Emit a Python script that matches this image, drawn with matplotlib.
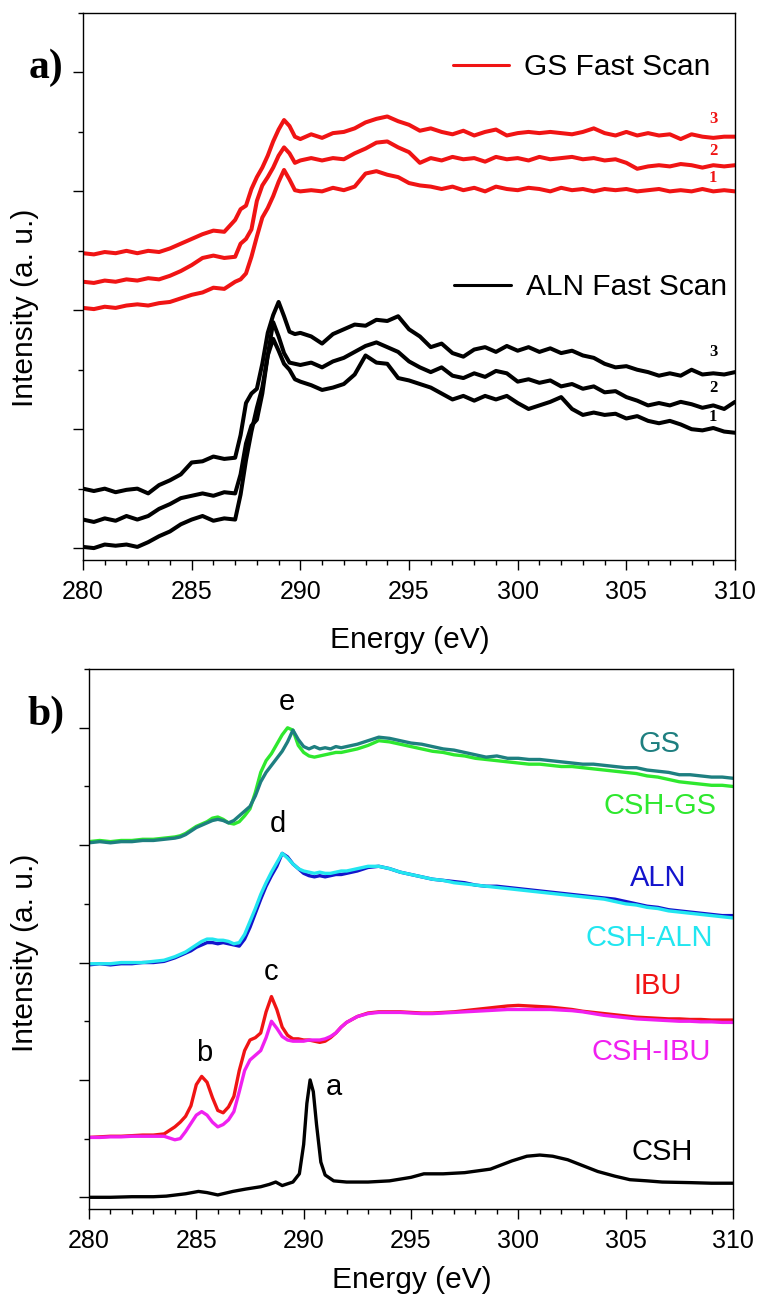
import numpy as np
import matplotlib
matplotlib.use('Agg')
import matplotlib.pyplot as plt
from matplotlib.ticker import MultipleLocator, NullFormatter
from matplotlib.lines import Line2D

plt.rcParams['font.family'] = ['Liberation Sans', 'DejaVu Sans']
plt.rcParams['lines.solid_joinstyle'] = 'round'
plt.rcParams['lines.solid_capstyle'] = 'round'

# ---------------- panel a data (fast scans) ----------------
e_a = ([280 + 0.5 * i for i in range(15)] +
       [287.25 + 0.25 * i for i in range(12)] +
       [290.5 + 0.5 * i for i in range(40)])

gs_1 = [2.02, 2.01, 2.03, 2.02, 2.04, 2.05, 2.04, 2.06, 2.07, 2.10, 2.13, 2.15, 2.19, 2.18, 2.24,
        2.26, 2.31, 2.45, 2.62, 2.78, 2.86, 2.96, 3.08, 3.18, 3.10, 3.01, 3.00,
        3.01, 3.00, 3.03, 3.01, 3.04, 3.15, 3.17, 3.14, 3.12, 3.07, 3.05, 3.04, 3.02, 3.04, 3.01, 3.03,
        3.00, 3.04, 3.02, 3.01, 3.03, 3.02, 3.00, 3.03, 3.01, 3.02, 3.00, 3.02, 3.01, 3.02, 3.00, 3.01,
        3.02, 3.00, 3.01, 3.00, 3.02, 3.00, 3.01, 3.00]
gs_2 = [2.24, 2.23, 2.25, 2.24, 2.26, 2.25, 2.27, 2.26, 2.29, 2.33, 2.38, 2.44, 2.46, 2.44, 2.45,
        2.56, 2.60, 2.68, 2.92, 3.05, 3.12, 3.20, 3.30, 3.37, 3.32, 3.24, 3.26,
        3.28, 3.26, 3.28, 3.27, 3.32, 3.36, 3.41, 3.42, 3.37, 3.33, 3.24, 3.28, 3.26, 3.29, 3.27, 3.28,
        3.25, 3.29, 3.27, 3.28, 3.26, 3.29, 3.27, 3.28, 3.29, 3.27, 3.28, 3.26, 3.27, 3.24, 3.19, 3.21,
        3.22, 3.21, 3.23, 3.22, 3.20, 3.22, 3.21, 3.22]
gs_3 = [2.48, 2.47, 2.49, 2.48, 2.50, 2.48, 2.50, 2.49, 2.52, 2.56, 2.60, 2.64, 2.67, 2.66, 2.76,
        2.85, 2.88, 3.02, 3.12, 3.20, 3.30, 3.42, 3.52, 3.60, 3.55, 3.46, 3.44,
        3.48, 3.45, 3.49, 3.50, 3.53, 3.58, 3.61, 3.63, 3.59, 3.56, 3.51, 3.53, 3.50, 3.48, 3.51, 3.47,
        3.50, 3.52, 3.47, 3.49, 3.50, 3.49, 3.50, 3.49, 3.48, 3.50, 3.53, 3.49, 3.47, 3.50, 3.47, 3.49,
        3.47, 3.48, 3.44, 3.48, 3.46, 3.45, 3.46, 3.46]

aln_1 = [0.01, 0.00, 0.03, 0.02, 0.03, 0.01, 0.05, 0.10, 0.14, 0.20, 0.24, 0.27, 0.23, 0.25, 0.24,
         0.45, 0.74, 0.98, 1.18, 1.35, 1.62, 1.76, 1.66, 1.55, 1.50, 1.42, 1.40,
         1.37, 1.33, 1.35, 1.38, 1.46, 1.62, 1.56, 1.55, 1.43, 1.41, 1.38, 1.35, 1.30, 1.25, 1.28, 1.24,
         1.28, 1.25, 1.28, 1.22, 1.17, 1.20, 1.23, 1.27, 1.17, 1.12, 1.14, 1.12, 1.13, 1.09, 1.11, 1.07,
         1.05, 1.07, 1.04, 1.00, 0.99, 1.01, 0.98, 0.97]
aln_2 = [0.24, 0.22, 0.25, 0.23, 0.27, 0.24, 0.27, 0.33, 0.37, 0.42, 0.44, 0.46, 0.44, 0.47, 0.46,
         0.62, 0.88, 1.03, 1.08, 1.30, 1.62, 1.90, 1.78, 1.64, 1.56, 1.55, 1.54,
         1.56, 1.52, 1.57, 1.60, 1.65, 1.70, 1.73, 1.69, 1.65, 1.57, 1.52, 1.48, 1.52, 1.45, 1.43, 1.47,
         1.44, 1.49, 1.47, 1.40, 1.42, 1.39, 1.41, 1.36, 1.38, 1.34, 1.36, 1.31, 1.32, 1.27, 1.24, 1.20,
         1.22, 1.20, 1.23, 1.21, 1.18, 1.20, 1.17, 1.23]
aln_3 = [0.50, 0.48, 0.50, 0.47, 0.49, 0.50, 0.46, 0.53, 0.57, 0.62, 0.72, 0.73, 0.77, 0.75, 0.76,
         0.95, 1.22, 1.30, 1.34, 1.55, 1.81, 1.96, 2.07, 1.95, 1.82, 1.80, 1.81,
         1.78, 1.72, 1.80, 1.84, 1.88, 1.87, 1.92, 1.91, 1.95, 1.84, 1.78, 1.69, 1.72, 1.64, 1.61, 1.67,
         1.69, 1.65, 1.70, 1.66, 1.69, 1.65, 1.68, 1.64, 1.66, 1.62, 1.60, 1.55, 1.52, 1.53, 1.50, 1.48,
         1.45, 1.47, 1.45, 1.50, 1.46, 1.47, 1.46, 1.48]

# ---------------- panel b data ----------------
e_b = ([280 + 0.5 * i for i in range(9)] +
       [284.25 + 0.25 * i for i in range(32)] +
       [292.5 + 0.5 * i for i in range(36)])

gs = [3.02, 3.03, 3.02, 3.03, 3.03, 3.04, 3.04, 3.05, 3.06,
      3.07, 3.09, 3.12, 3.15, 3.17, 3.19, 3.21, 3.22, 3.21, 3.19, 3.21, 3.25, 3.29, 3.33, 3.42, 3.54,
      3.62, 3.68, 3.74, 3.80, 3.88, 3.98, 3.90, 3.84, 3.82, 3.84, 3.82, 3.83, 3.82, 3.84, 3.83, 3.84,
      3.86, 3.89, 3.92, 3.91, 3.89, 3.87, 3.86, 3.84, 3.82, 3.81, 3.79, 3.77, 3.75, 3.76, 3.74, 3.74,
      3.73, 3.73, 3.72, 3.71, 3.70, 3.69, 3.69, 3.68, 3.67, 3.66, 3.66, 3.64, 3.63, 3.62, 3.60, 3.60,
      3.59, 3.58, 3.58, 3.57]
csh_gs = [3.03, 3.04, 3.03, 3.04, 3.04, 3.05, 3.05, 3.06, 3.07,
          3.08, 3.10, 3.13, 3.16, 3.18, 3.20, 3.23, 3.24, 3.22, 3.19, 3.18, 3.20, 3.25, 3.31, 3.45, 3.62,
          3.72, 3.78, 3.86, 3.94, 4.00, 3.98, 3.85, 3.79, 3.76, 3.75, 3.76, 3.77, 3.78, 3.79, 3.79, 3.80,
          3.82, 3.85, 3.89, 3.88, 3.86, 3.84, 3.82, 3.80, 3.79, 3.77, 3.76, 3.74, 3.73, 3.72, 3.71, 3.70,
          3.69, 3.69, 3.68, 3.67, 3.67, 3.66, 3.65, 3.64, 3.63, 3.62, 3.61, 3.59, 3.58, 3.56, 3.54, 3.53,
          3.52, 3.51, 3.51, 3.50]
aln = [1.98, 1.99, 1.98, 1.99, 1.99, 2.00, 2.00, 2.01, 2.04,
       2.06, 2.08, 2.10, 2.13, 2.15, 2.17, 2.17, 2.16, 2.17, 2.16, 2.15, 2.14, 2.20, 2.30, 2.42, 2.54,
       2.65, 2.74, 2.82, 2.93, 2.90, 2.84, 2.80, 2.76, 2.74, 2.73, 2.74, 2.73, 2.74, 2.75, 2.75, 2.76,
       2.78, 2.81, 2.82, 2.80, 2.77, 2.75, 2.73, 2.71, 2.70, 2.69, 2.68, 2.66, 2.65, 2.65, 2.64, 2.63,
       2.62, 2.61, 2.60, 2.59, 2.58, 2.57, 2.56, 2.55, 2.54, 2.52, 2.50, 2.48, 2.47, 2.45, 2.44, 2.43,
       2.42, 2.41, 2.40, 2.40]
csh_aln = [1.99, 1.99, 1.99, 2.00, 2.00, 2.00, 2.01, 2.02, 2.05,
           2.07, 2.09, 2.12, 2.15, 2.18, 2.20, 2.20, 2.19, 2.19, 2.18, 2.16, 2.17, 2.24, 2.35, 2.46, 2.58,
           2.68, 2.77, 2.85, 2.93, 2.89, 2.84, 2.80, 2.78, 2.77, 2.76, 2.77, 2.76, 2.76, 2.77, 2.78, 2.78,
           2.80, 2.82, 2.82, 2.80, 2.77, 2.75, 2.73, 2.71, 2.70, 2.68, 2.67, 2.66, 2.65, 2.64, 2.63, 2.62,
           2.61, 2.60, 2.59, 2.58, 2.57, 2.56, 2.55, 2.54, 2.52, 2.50, 2.49, 2.47, 2.46, 2.44, 2.43, 2.42,
           2.41, 2.40, 2.39, 2.38]
ibu = [0.51, 0.515, 0.52, 0.52, 0.525, 0.53, 0.53, 0.54, 0.60,
       0.64, 0.69, 0.78, 0.96, 1.03, 0.98, 0.85, 0.74, 0.72, 0.77, 0.86, 1.08, 1.25, 1.34, 1.36, 1.40,
       1.58, 1.71, 1.60, 1.45, 1.38, 1.35, 1.35, 1.34, 1.34, 1.33, 1.32, 1.33, 1.36, 1.40, 1.45, 1.49,
       1.54, 1.57, 1.58, 1.58, 1.58, 1.575, 1.57, 1.57, 1.575, 1.58, 1.59, 1.60, 1.61, 1.62, 1.63, 1.635,
       1.63, 1.625, 1.62, 1.61, 1.60, 1.585, 1.575, 1.565, 1.555, 1.545, 1.535, 1.53, 1.525, 1.52, 1.52,
       1.515, 1.515, 1.51, 1.51, 1.51]
csh_ibu = [0.51, 0.51, 0.515, 0.515, 0.52, 0.52, 0.52, 0.52, 0.49,
           0.50, 0.56, 0.63, 0.70, 0.73, 0.70, 0.64, 0.60, 0.62, 0.66, 0.73, 0.90, 1.08, 1.17, 1.21, 1.25,
           1.36, 1.50, 1.44, 1.37, 1.34, 1.33, 1.33, 1.33, 1.34, 1.34, 1.34, 1.35, 1.37, 1.40, 1.45, 1.49,
           1.54, 1.565, 1.575, 1.575, 1.575, 1.57, 1.565, 1.565, 1.57, 1.575, 1.58, 1.585, 1.59, 1.595, 1.60,
           1.60, 1.60, 1.60, 1.60, 1.595, 1.59, 1.58, 1.565, 1.55, 1.54, 1.53, 1.52, 1.515, 1.51, 1.505, 1.50,
           1.50, 1.495, 1.495, 1.49, 1.49]

e_csh = [280, 281, 282, 283, 283.6, 284.5, 285.1, 285.5, 286.0, 286.7, 287.3, 288.0, 288.4, 288.7,
         289.0, 289.5, 289.8, 290.0, 290.15, 290.3, 290.45, 290.6, 290.8, 291.0, 291.4, 292, 293, 294,
         295, 295.6, 296.5, 297.5, 298.7, 299.7, 300.4, 301.0, 301.6, 302.3, 303.0, 303.7, 304.5, 305.2,
         306.0, 306.7, 308, 309, 310]
csh = [0.00, 0.00, 0.005, 0.005, 0.01, 0.03, 0.05, 0.04, 0.02, 0.05, 0.07, 0.09, 0.11, 0.13,
       0.10, 0.13, 0.20, 0.45, 0.80, 1.00, 0.90, 0.62, 0.30, 0.19, 0.14, 0.13, 0.13, 0.14,
       0.17, 0.20, 0.20, 0.21, 0.24, 0.31, 0.35, 0.36, 0.35, 0.32, 0.27, 0.22, 0.18, 0.15,
       0.14, 0.13, 0.125, 0.12, 0.12]

red = '#f01414'

fig = plt.figure(figsize=(7.58, 13.02), dpi=100)
ax1 = fig.add_axes([0.1095, 0.5699, 0.8602, 0.4201])
ax2 = fig.add_axes([0.1174, 0.0714, 0.8496, 0.4147])


def style(ax):
    ax.set_xlim(280, 310)
    ax.set_ylim(-0.1, 4.5)
    ax.xaxis.set_major_locator(MultipleLocator(5))
    ax.xaxis.set_minor_locator(MultipleLocator(1))
    ax.yaxis.set_major_locator(MultipleLocator(1))
    ax.yaxis.set_minor_locator(MultipleLocator(0.5))
    ax.yaxis.set_major_formatter(NullFormatter())
    ax.tick_params(which='major', direction='out', length=7.2, width=1.0, labelsize=18, pad=7,
                   top=False, right=False)
    ax.tick_params(which='minor', direction='out', length=3.6, width=1.0, top=False, right=False)
    for s in ax.spines.values():
        s.set_linewidth(1.0)


# panel a
for y in (gs_1, gs_2, gs_3):
    ax1.plot(e_a, y, color=red, lw=2.9)
for y in (aln_1, aln_2, aln_3):
    ax1.plot(e_a, y, color='black', lw=2.9)
style(ax1)

num_font = dict(family='Liberation Serif', fontweight='bold', fontsize=12, ha='center', va='center')
for lab, yy in zip(['3', '2', '1'], [3.61, 3.34, 3.11]):
    ax1.text(309.0, yy, lab, color=red, **num_font)
for lab, yy in zip(['3', '2', '1'], [1.65, 1.35, 1.10]):
    ax1.text(309.0, yy, lab, color='black', **num_font)

leg1 = ax1.legend([Line2D([], [], color=red, lw=2.2)], ['GS Fast Scan'], loc='center left',
                  bbox_to_anchor=(0.567, 0.901), frameon=False, fontsize=21.5, borderpad=0,
                  borderaxespad=0, handlelength=1.9, handletextpad=0.5)
ax1.add_artist(leg1)
ax1.legend([Line2D([], [], color='black', lw=2.2)], ['ALN Fast Scan'], loc='center left',
           bbox_to_anchor=(0.569, 0.499), frameon=False, fontsize=21.5, borderpad=0,
           borderaxespad=0, handlelength=1.9, handletextpad=0.5)

# panel b
ax2.plot(e_b, csh_gs, color='#2ee82e', lw=2.4)
ax2.plot(e_b, gs, color='#1e7f80', lw=2.4)
ax2.plot(e_b, aln, color='#1414cc', lw=2.4)
ax2.plot(e_b, csh_aln, color='#22e6f0', lw=2.4)
ax2.plot(e_b, ibu, color=red, lw=2.4)
ax2.plot(e_b, csh_ibu, color='#f020f0', lw=2.4)
ax2.plot(e_csh, csh, color='black', lw=2.4)
style(ax2)

names = ['GS', 'CSH-GS', 'ALN', 'CSH-ALN', 'IBU', 'CSH-IBU', 'CSH']
name_x = [306.6, 306.6, 306.5, 306.1, 306.5, 306.2, 306.7]
name_y = [3.86, 3.33, 2.72, 2.21, 1.80, 1.24, 0.39]
name_c = ['#1e7f80', '#2ee82e', '#1414cc', '#22e6f0', red, '#f020f0', 'black']
for n, xx, yy, c in zip(names, name_x, name_y, name_c):
    ax2.text(xx, yy, n, color=c, fontsize=21, ha='center', va='center')

peaks = ['e', 'd', 'c', 'b', 'a']
peak_x = [289.2, 288.8, 288.5, 285.35, 291.4]
peak_y = [4.22, 3.18, 1.92, 1.23, 0.94]
for p, xx, yy in zip(peaks, peak_x, peak_y):
    ax2.text(xx, yy, p, fontsize=21, ha='center', va='center')

# axis labels and panel letters
fig.text(0.033, 0.7634, 'Intensity (a. u.)', rotation=90, fontsize=21.5, ha='center', va='center')
fig.text(0.033, 0.268, 'Intensity (a. u.)', rotation=90, fontsize=21.5, ha='center', va='center')
fig.text(0.541, 0.5084, 'Energy (eV)', fontsize=21.5, ha='center', va='center')
fig.text(0.543, 0.0169, 'Energy (eV)', fontsize=21.5, ha='center', va='center')
fig.text(0.038, 0.9478, 'a)', family='Liberation Serif', fontweight='bold', fontsize=30,
         ha='left', va='center')
fig.text(0.036, 0.4508, 'b)', family='Liberation Serif', fontweight='bold', fontsize=30,
         ha='left', va='center')

fig.savefig('out.png', dpi=100)
